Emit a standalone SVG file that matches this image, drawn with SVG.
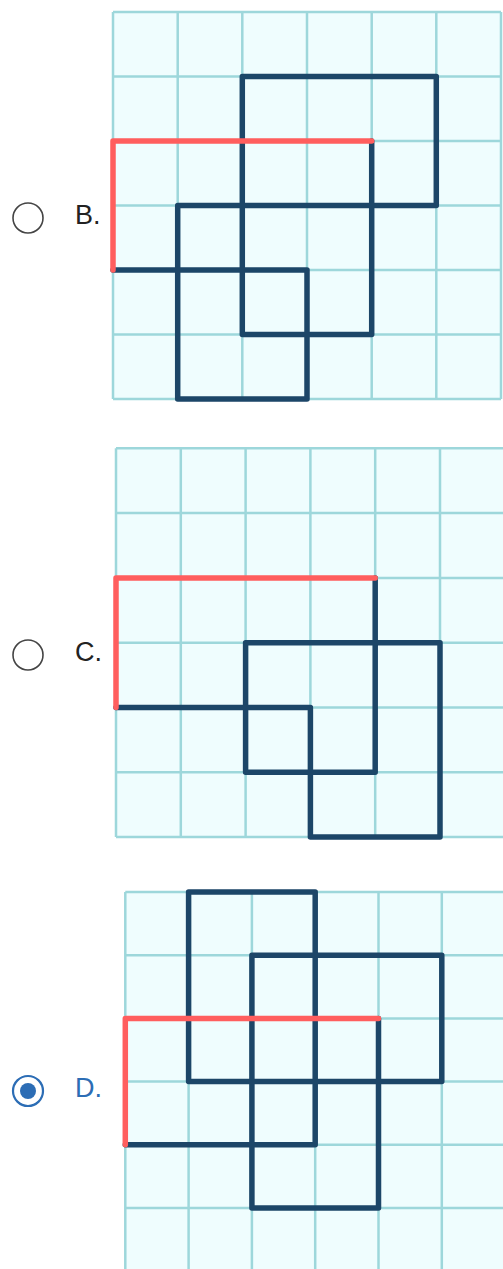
<svg xmlns="http://www.w3.org/2000/svg" width="503" height="1269" viewBox="0 0 503 1269">
<style>
.bg{fill:#effdfe;stroke:none}
.grid{stroke:#9dd7db;stroke-width:2.5;fill:none}
.dark{stroke:#1c4668;stroke-width:5.5;fill:none;stroke-linecap:round;stroke-linejoin:round}
.red{stroke:#ff5e5e;stroke-width:5.5;fill:none;stroke-linecap:round;stroke-linejoin:round}
.radio{fill:#fff;stroke:#444;stroke-width:1.6}
.lbl{font-family:"Liberation Sans",Arial,sans-serif;font-size:27px;fill:#222}
.sel{stroke:#2c6db5;stroke-width:2.2;fill:#fff}
</style>
<rect width="503" height="1269" fill="#fff"/>

<g id="optionB">
  <circle class="radio" cx="28" cy="218" r="15"/>
  <text class="lbl" x="75" y="224">B.</text>
  <rect class="bg" x="113" y="12" width="388" height="387"/>
  <path class="grid" d="M113,12V399M177.7,12V399M242.3,12V399M307,12V399M371.7,12V399M436.3,12V399M501,12V399M113,12H501M113,76.5H501M113,141H501M113,205.5H501M113,270H501M113,334.5H501M113,399H501"/>
</g>

<g id="optionC">
  <circle class="radio" cx="28" cy="655" r="15"/>
  <text class="lbl" x="75" y="661">C.</text>
  <rect class="bg" x="116" y="448.3" width="389" height="388.8"/>
  <path class="grid" d="M116,448.3V837.1M180.8,448.3V837.1M245.6,448.3V837.1M310.4,448.3V837.1M375.2,448.3V837.1M440,448.3V837.1M504.8,448.3V837.1M116,448.3H505M116,513.1H505M116,577.9H505M116,642.7H505M116,707.5H505M116,772.3H505M116,837.1H505"/>
</g>

<g id="optionD">
  <circle class="sel" cx="28" cy="1091" r="15"/>
  <circle cx="28" cy="1091" r="8" fill="#2c6db5"/>
  <text class="lbl" x="75" y="1097" style="fill:#2c6db5">D.</text>
  <rect class="bg" x="125.3" y="892" width="380" height="380"/>
  <path class="grid" d="M125.3,892V1272M188.6,892V1272M251.9,892V1272M315.2,892V1272M378.5,892V1272M441.8,892V1272M125.3,892H505M125.3,955.2H505M125.3,1018.4H505M125.3,1081.6H505M125.3,1144.8H505M125.3,1208H505"/>
</g>

<g id="connectors">
  <path class="dark" d="M371.7,141V334.5H242.3V76.5H436.3V205.5H177.7V399H307V270H113"/>
  <path class="red" d="M113,270V141H371.7"/>
  <path class="dark" d="M375.2,577.9V772.3H245.6V642.7H440V837.1H310.4V707.5H116"/>
  <path class="red" d="M116,707.5V577.9H375.2"/>
  <path class="dark" d="M378.5,1018.4V1208H251.9V955.2H441.8V1081.6H188.6V892H315.2V1144.8H125.3"/>
  <path class="red" d="M125.3,1144.8V1018.4H378.5"/>
</g>
</svg>
